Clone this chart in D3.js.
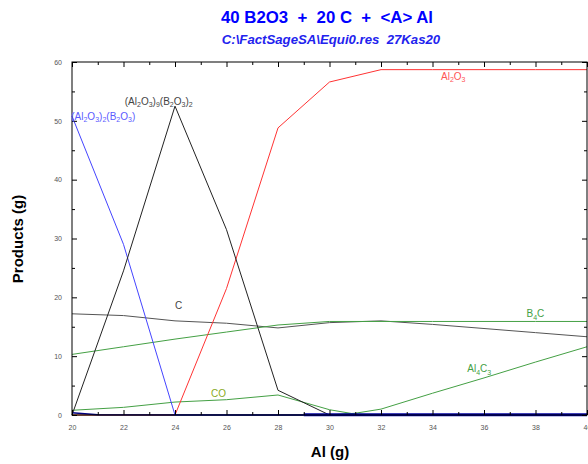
<!DOCTYPE html>
<html>
<head>
<meta charset="utf-8">
<script src="https://cdn.jsdelivr.net/npm/d3@7"></script>
<style>
  body { margin: 0; background: #fff; }
  svg { font-family: Arial, "Liberation Sans", sans-serif; }
</style>
</head>
<body>
<script>
// x grids (Al, g)
const alMain = [20, 22, 24, 26, 28, 30, 32, 34, 36, 38, 40];
const alFine = [20, 22, 24, 26, 28, 30, 31, 32, 34, 36, 38, 40];
const alTrace = [20, 21, 29];
const alTraceThick = [29, 40];

// products (g)
const al2o3_2_b2o3 = [50.8, 29, 0, 0, 0, 0, 0, 0, 0, 0, 0];
const al2o3_9_b2o3_2 = [0, 24.5, 52.5, 31.5, 4.2, 0, 0, 0, 0, 0, 0];
const carbon = [17.2, 16.9, 16.0, 15.6, 14.8, 15.7, 16.0, 15.4, 14.7, 14.0, 13.3];
const b4c = [10.3, 11.6, 12.9, 14.1, 15.3, 15.9, 15.9, 15.9, 15.9, 15.9, 15.9];
const al2o3 = [0, 0, 0, 21.5, 48.8, 56.6, 58.7, 58.7, 58.7, 58.7, 58.7];
const co = [0.8, 1.3, 2.2, 2.6, 3.4, 0.9, 0.15, 0, 0, 0, 0, 0];
const al4c3 = [0, 0, 0, 0, 0, 0, 0.3, 1.0, 3.7, 6.3, 9.0, 11.6];
const trace = [0.4, 0.05, 0];
const traceThick = [0.05, 0.05];

const xTicks = [20, 22, 24, 26, 28, 30, 32, 34, 36, 38, 40];
const yTicks = [0, 10, 20, 30, 40, 50, 60];

const W = 588, H = 464;
const margin = { top: 62, right: 1, bottom: 49, left: 72 };
const width = W - margin.left - margin.right,
    height = H - margin.top - margin.bottom;

const x = d3.scaleLinear().domain([20, 40]).range([0, width]);
const y = d3.scaleLinear().domain([0, 60]).range([height, 0]);

const svg = d3.select("body").append("svg")
    .attr("width", W).attr("height", H);

// titles
svg.append("text")
    .attr("x", 327).attr("y", 23)
    .attr("text-anchor", "middle")
    .style("font-size", "16.8px").style("font-weight", "bold")
    .style("fill", "#0000ff")
    .attr("xml:space", "preserve")
    .text("40 B2O3  +  20 C  +  <A> Al");
svg.append("text")
    .attr("x", 331).attr("y", 44)
    .attr("text-anchor", "middle")
    .style("font-size", "13.2px").style("font-weight", "bold").style("font-style", "italic")
    .style("fill", "#2222ee")
    .attr("xml:space", "preserve")
    .text("C:\\FactSageSA\\Equi0.res  27Kas20");

const g = svg.append("g")
    .attr("transform", "translate(" + margin.left + "," + margin.top + ")");

// lines
const line = d3.line().x(d => x(d[0])).y(d => y(d[1]));
function addLine(xs, ys, color, w) {
    g.append("path")
        .datum(xs.map((v, i) => [v, ys[i]]))
        .attr("d", line)
        .attr("fill", "none")
        .attr("stroke", color)
        .attr("stroke-width", w || 1);
}
addLine(alMain, carbon, "#555555");
addLine(alMain, b4c, "#44a044");
addLine(alFine, co, "#44a044");
addLine(alFine, al4c3, "#44a044");
addLine(alMain, al2o3, "#ff3333");
addLine(alMain, al2o3_2_b2o3, "#4444ff");
addLine(alMain, al2o3_9_b2o3_2, "#222222");
addLine(alTrace, trace, "#000080", 1.5);
addLine(alTraceThick, traceThick, "#0000a0", 3);

// frame
g.append("rect")
    .attr("width", width).attr("height", height)
    .attr("fill", "none").attr("stroke", "#000").attr("stroke-width", 1);

const tickColor = "#555";
// bottom axis
g.append("g")
    .attr("transform", "translate(0," + height + ")")
    .call(d3.axisBottom(x).tickValues(xTicks).tickSize(-5).tickPadding(10).tickFormat(d3.format("d")));
g.append("g")
    .attr("transform", "translate(0," + height + ")")
    .call(d3.axisBottom(x).tickValues(d3.range(21, 40, 2)).tickSize(-3).tickFormat(""));
// top axis
g.append("g")
    .call(d3.axisTop(x).tickValues(xTicks).tickSize(-5).tickFormat(""));
g.append("g")
    .call(d3.axisTop(x).tickValues(d3.range(21, 40, 2)).tickSize(-3).tickFormat(""));
// left axis
g.append("g")
    .call(d3.axisLeft(y).tickValues(yTicks).tickSize(-5).tickPadding(10).tickFormat(d3.format("d")));
g.append("g")
    .call(d3.axisLeft(y).tickValues(d3.range(5, 60, 10)).tickSize(-3).tickFormat(""));
// right axis
g.append("g")
    .attr("transform", "translate(" + width + ",0)")
    .call(d3.axisRight(y).tickValues(yTicks).tickSize(-5).tickFormat(""));
g.append("g")
    .attr("transform", "translate(" + width + ",0)")
    .call(d3.axisRight(y).tickValues(d3.range(5, 60, 10)).tickSize(-3).tickFormat(""));

g.selectAll(".domain").remove();
g.selectAll(".tick text").style("font-size", "7px").style("fill", tickColor)
    .style("font-family", "Arial, sans-serif");

// axis titles
svg.append("text")
    .attr("x", 330).attr("y", 457)
    .attr("text-anchor", "middle")
    .style("font-size", "15px").style("font-weight", "bold")
    .text("Al (g)");
svg.append("text")
    .attr("transform", "translate(23,239) rotate(-90)")
    .attr("text-anchor", "middle")
    .style("font-size", "15px").style("font-weight", "bold")
    .text("Products (g)");

// species labels with subscripts
function label(parts, xv, yv, color) {
    const t = g.append("text")
        .attr("x", x(xv)).attr("y", y(yv))
        .style("font-size", "10px")
        .style("fill", color);
    let shift = 0;
    parts.forEach(p => {
        if (typeof p === "string") {
            t.append("tspan").attr("dy", -shift).text(p);
            shift = 0;
        } else {
            t.append("tspan").attr("dy", 2.5 - shift).style("font-size", "7px").text(p.sub);
            shift = 2.5;
        }
    });
}
label(["(Al", {sub: "2"}, "O", {sub: "3"}, ")", {sub: "2"}, "(B", {sub: "2"}, "O", {sub: "3"}, ")"], 19.97, 50.2, "#5a5aff");
label(["(Al", {sub: "2"}, "O", {sub: "3"}, ")", {sub: "9"}, "(B", {sub: "2"}, "O", {sub: "3"}, ")", {sub: "2"}], 22.05, 52.7, "#444444");
label(["Al", {sub: "2"}, "O", {sub: "3"}], 34.33, 57.0, "#ff5555");
label(["C"], 24.0, 18.0, "#444444");
label(["B", {sub: "4"}, "C"], 37.65, 16.6, "#44a044");
label(["Al", {sub: "4"}, "C", {sub: "3"}], 35.35, 7.3, "#44a044");
label(["CO"], 25.4, 3.0, "#88aa22");
</script>
</body>
</html>
